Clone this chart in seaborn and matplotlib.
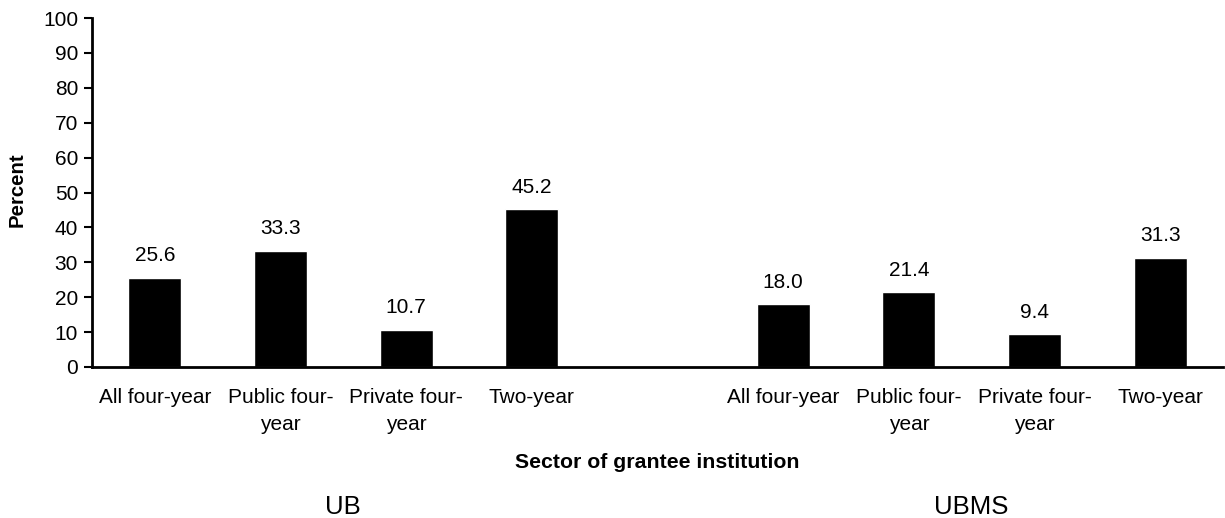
import matplotlib
matplotlib.use('Agg')
import matplotlib.pyplot as plt
import matplotlib.transforms as mtransforms
import pandas as pd
import seaborn as sns

# Values
sectors = ['All four-year', 'Public four-\nyear', 'Private four-\nyear', 'Two-year']
groups = ['UB', 'UBMS']
ub_values = [25.6, 33.3, 10.7, 45.2]
ubms_values = [18.0, 21.4, 9.4, 31.3]

rows = []
for grp, vals in zip(groups, [ub_values, ubms_values]):
    for sec, v in zip(sectors, vals):
        rows.append({'slot': grp + '|' + sec, 'group': grp, 'sector': sec, 'percent': v})
df = pd.DataFrame(rows)

# one empty slot between the two groups
order = [groups[0] + '|' + s for s in sectors] + ['gap'] + [groups[1] + '|' + s for s in sectors]

sns.set_style('white')
plt.rcParams['font.family'] = ['Liberation Sans', 'DejaVu Sans']
plt.rcParams['text.color'] = 'black'
plt.rcParams['xtick.color'] = 'black'
plt.rcParams['ytick.color'] = 'black'

fig = plt.figure(figsize=(12.25, 5.18), dpi=100)
ax = fig.add_axes([92 / 1225, 1 - 367 / 518, 1131 / 1225, 349 / 518])

sns.barplot(data=df, x='slot', y='percent', order=order, color='black',
            saturation=1, width=0.42, ax=ax)

for cont in ax.containers:
    ax.bar_label(cont, fmt='%.1f', padding=9, fontsize=15, color='black')

ax.set_ylim(0, 100)
ax.set_yticks(range(0, 101, 10))
ax.set_xlim(-0.5, len(order) - 0.5)
ax.set_xticks(range(len(order)))
ax.set_xticklabels([s.split('|')[1] if '|' in s else '' for s in order], linespacing=1.55)
ax.tick_params(axis='x', length=0, pad=15, labelsize=15)
ax.tick_params(axis='y', length=6, width=1.5, direction='out', left=True, pad=4, labelsize=15)
ax.set_xlabel('')
ax.set_ylabel('')

for side in ['top', 'right']:
    ax.spines[side].set_visible(False)
for side in ['left', 'bottom']:
    ax.spines[side].set_linewidth(2)
    ax.spines[side].set_color('black')

fig.text(17.5 / 1225, 1 - 190 / 518, 'Percent', rotation=90, ha='center', va='center',
         fontsize=14.7, fontweight='bold')
fig.text(657 / 1225, 1 - 463 / 518, 'Sector of grantee institution', ha='center', va='center',
         fontsize=15.3, fontweight='bold')

trans = mtransforms.blended_transform_factory(ax.transData, fig.transFigure)
ax.text(1.5, 1 - 507 / 518, groups[0], transform=trans, ha='center', va='center', fontsize=18.5)
ax.text(6.5, 1 - 507 / 518, groups[1], transform=trans, ha='center', va='center', fontsize=18.5)

fig.savefig('out.png', dpi=100)
